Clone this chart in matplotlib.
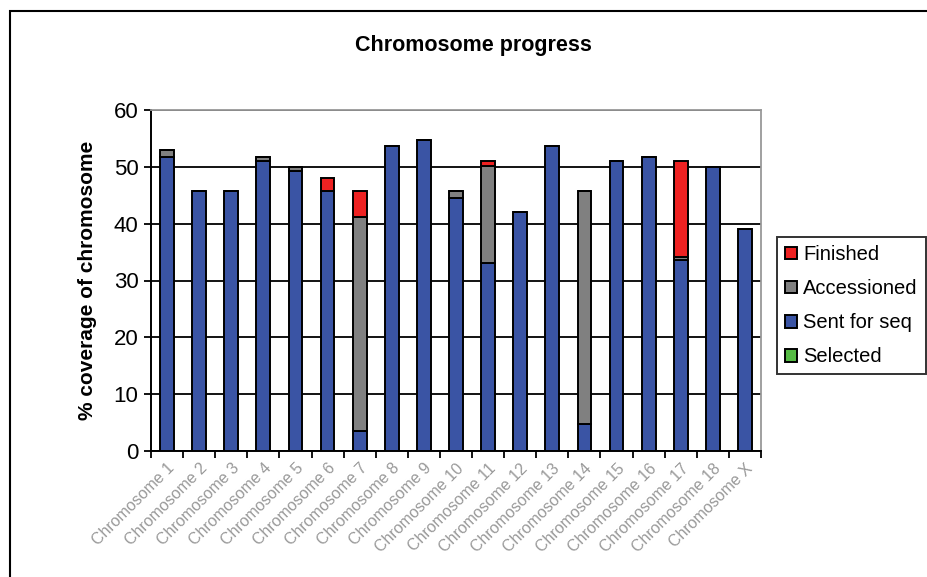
import numpy as np
import matplotlib.pyplot as plt
from matplotlib.patches import Rectangle

# chromosome names and the coverage (%) in each stage
chromosomes = ['Chromosome 1', 'Chromosome 2', 'Chromosome 3', 'Chromosome 4',
               'Chromosome 5', 'Chromosome 6', 'Chromosome 7', 'Chromosome 8',
               'Chromosome 9', 'Chromosome 10', 'Chromosome 11', 'Chromosome 12',
               'Chromosome 13', 'Chromosome 14', 'Chromosome 15', 'Chromosome 16',
               'Chromosome 17', 'Chromosome 18', 'Chromosome X']
selected = [0] * 19
sent_for_seq = [51.8, 45.8, 45.8, 51.0, 49.2, 45.8, 3.6, 53.7, 54.8, 44.6,
                33.0, 42.0, 53.7, 4.8, 51.0, 51.8, 33.6, 49.9, 39.0]
accessioned = [1.2, 0, 0, 0.8, 0.7, 0, 37.6, 0, 0, 1.2,
               17.2, 0, 0, 41.0, 0, 0, 0.5, 0, 0]
finished = [0, 0, 0, 0, 0, 2.2, 4.6, 0, 0, 0,
            0.8, 0, 0, 0, 0, 0, 16.9, 0, 0]

plt.rcParams['font.family'] = ['Liberation Sans', 'DejaVu Sans']

fig = plt.figure(figsize=(9.28, 5.77), dpi=100)
# outer chart frame
fig.patches.append(Rectangle((10 / 928, -0.1), 1.0, (577 - 11) / 577 + 0.1,
                             transform=fig.transFigure, fill=False,
                             edgecolor='black', linewidth=1.5))

ax = fig.add_axes([151 / 928, 1 - 451 / 577, (761 - 151) / 928, (451 - 110) / 577])

x = np.arange(len(chromosomes))
w = 0.43
s = np.array(selected, dtype=float)
b = np.array(sent_for_seq)
a = np.array(accessioned)
f = np.array(finished)

kw = dict(width=w, edgecolor='black', linewidth=1.4, zorder=3)
h_sel = ax.bar(x, s, color='#55BB44', **kw)
h_sent = ax.bar(x, b, bottom=s, color='#3A54A4', **kw)
h_acc = ax.bar(x, a, bottom=s + b, color='#808080', **kw)
h_fin = ax.bar(x, f, bottom=s + b + a, color='#EE2222', **kw)

ax.set_xlim(-0.5, len(chromosomes) - 0.5)
ax.set_ylim(0, 60)
ax.set_yticks(range(0, 61, 10))
ax.yaxis.grid(True, color='black', linewidth=1.3, zorder=0)
ax.set_axisbelow(True)

ax.set_xticks(np.arange(len(chromosomes) + 1) - 0.5, minor=False)
ax.set_xticklabels([])
ax.set_xticks(x, minor=True)
ax.set_xticklabels(chromosomes, minor=True, rotation=45, ha='right',
                   va='top', rotation_mode='anchor', color='#999999',
                   fontsize=11.5)
ax.tick_params(axis='x', which='minor', length=0, pad=7)
ax.tick_params(axis='x', which='major', length=5, direction='out', width=1.3)
ax.tick_params(axis='y', length=5, direction='out', width=1.3, labelsize=16,
               colors='black', pad=4)

for side in ['top', 'right']:
    ax.spines[side].set_color('#999999')
    ax.spines[side].set_linewidth(1.3)
for side in ['left', 'bottom']:
    ax.spines[side].set_color('black')
    ax.spines[side].set_linewidth(1.4)

ax.set_ylabel('% coverage of chromosome', fontsize=15, fontweight='bold',
              labelpad=12)
fig.text(0.51, 1 - 45 / 577, 'Chromosome progress', ha='center', va='center',
         fontsize=15.5, fontweight='bold')

leg = fig.legend([h_fin, h_acc, h_sent, h_sel],
                 ['Finished', 'Accessioned', 'Sent for seq', 'Selected'],
                 loc='upper left', bbox_to_anchor=(777 / 928, 1 - 237 / 577),
                 fontsize=14.5, frameon=True, fancybox=False,
                 handlelength=0.6, handleheight=0.6, handletextpad=0.3,
                 labelspacing=0.75, borderpad=0.4, borderaxespad=0)
leg.get_frame().set_edgecolor('black')
leg.get_frame().set_linewidth(1.4)

plt.savefig('out.png', dpi=100)
